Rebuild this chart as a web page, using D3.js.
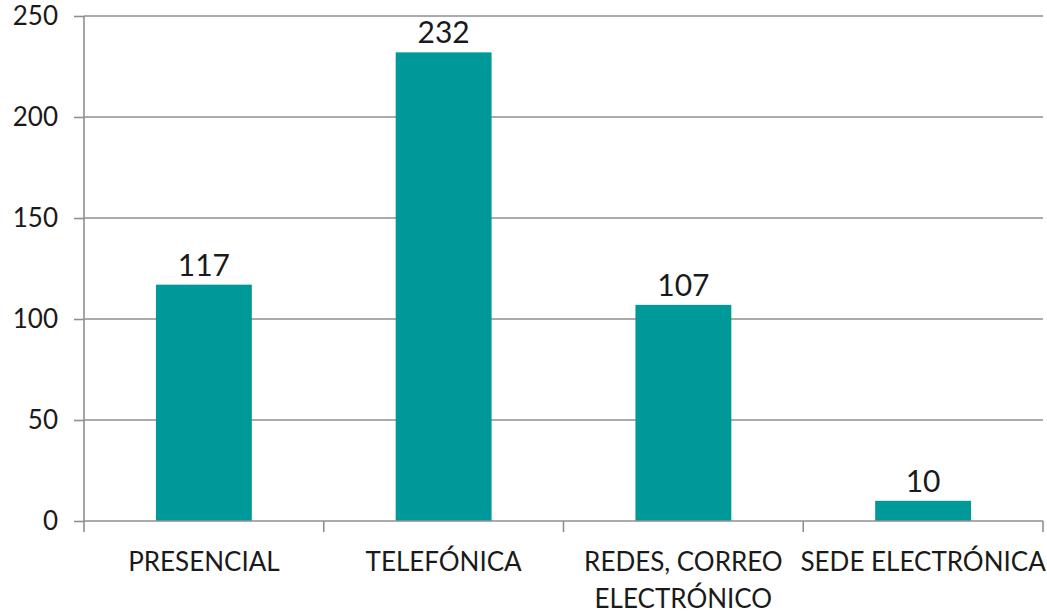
<!DOCTYPE html>
<html>
<head>
<meta charset="utf-8">
<script src="https://cdn.jsdelivr.net/npm/d3@7"></script>
<style>
  body { margin: 0; background: #fff; }
  text { font-family: Lato, sans-serif; }
</style>
</head>
<body>
<div id="wrapper"></div>
<script>
// data
const categories = ["PRESENCIAL", "TELEFÓNICA", "REDES, CORREO ELECTRÓNICO", "SEDE ELECTRÓNICA"]
const categoryLines = [["PRESENCIAL"], ["TELEFÓNICA"], ["REDES, CORREO", "ELECTRÓNICO"], ["SEDE ELECTRÓNICA"]]
const values = [117, 232, 107, 10]
const yTicks = [0, 50, 100, 150, 200, 250]

function drawChart() {
  const dimensions = {
    width: 1047,
    height: 615,
    margin: { top: 16, right: 4, bottom: 94, left: 84 },
  }
  dimensions.boundedWidth = dimensions.width - dimensions.margin.left - dimensions.margin.right
  dimensions.boundedHeight = dimensions.height - dimensions.margin.top - dimensions.margin.bottom

  const svg = d3.select("#wrapper").append("svg")
    .attr("width", dimensions.width)
    .attr("height", dimensions.height)

  const bounds = svg.append("g")
    .attr("transform", `translate(${dimensions.margin.left},${dimensions.margin.top})`)

  const xScale = d3.scaleBand()
    .domain(categories)
    .range([0, dimensions.boundedWidth])
    .paddingInner(0.6)
    .paddingOuter(0.3)

  const yScale = d3.scaleLinear()
    .domain([0, 250])
    .range([dimensions.boundedHeight, 0])

  // gridlines
  bounds.append("g")
    .selectAll("line")
    .data(yTicks.filter(d => d > 0))
    .join("line")
      .attr("x1", 0)
      .attr("x2", dimensions.boundedWidth)
      .attr("y1", d => yScale(d))
      .attr("y2", d => yScale(d))
      .attr("stroke", "#8f8f8f")
      .attr("stroke-width", 1.6)

  // bars
  bounds.append("g")
    .selectAll("rect")
    .data(values)
    .join("rect")
      .attr("x", (d, i) => xScale(categories[i]))
      .attr("y", d => yScale(d))
      .attr("width", xScale.bandwidth())
      .attr("height", d => dimensions.boundedHeight - yScale(d))
      .attr("fill", "#009999")

  // value labels
  bounds.append("g")
    .selectAll("text")
    .data(values)
    .join("text")
      .attr("x", (d, i) => xScale(categories[i]) + xScale.bandwidth() / 2)
      .attr("y", d => yScale(d) - 9)
      .attr("text-anchor", "middle")
      .attr("font-size", 30)
      .attr("fill", "#1a1a1a")
      .text(d => d)

  // y axis
  const yAxis = bounds.append("g")
    .call(d3.axisLeft(yScale).tickValues(yTicks).tickSize(10).tickPadding(16))
  yAxis.select(".domain").remove()
  yAxis.append("line")
    .attr("x1", 0).attr("x2", 0)
    .attr("y1", 0).attr("y2", dimensions.boundedHeight + 11)
    .attr("stroke", "#8f8f8f").attr("stroke-width", 1.6)
  yAxis.selectAll(".tick line").attr("stroke", "#8f8f8f").attr("stroke-width", 1.6)
  yAxis.selectAll(".tick text")
    .attr("font-family", "Lato, sans-serif")
    .attr("font-size", 26)
    .attr("fill", "#1a1a1a")

  // x axis
  const xAxis = bounds.append("g")
    .attr("transform", `translate(0,${dimensions.boundedHeight})`)
  xAxis.append("line")
    .attr("x1", 0).attr("x2", dimensions.boundedWidth)
    .attr("stroke", "#8f8f8f").attr("stroke-width", 1.6)
  const step = xScale.step()
  xAxis.selectAll(".sep")
    .data(d3.range(1, categories.length + 1))
    .join("line")
      .attr("class", "sep")
      .attr("x1", d => xScale(categories[d - 1]) + xScale.bandwidth() / 2 + step / 2)
      .attr("x2", d => xScale(categories[d - 1]) + xScale.bandwidth() / 2 + step / 2)
      .attr("y1", 0).attr("y2", 11)
      .attr("stroke", "#8f8f8f").attr("stroke-width", 1.6)

  const labels = xAxis.selectAll(".cat")
    .data(categories)
    .join("text")
      .attr("class", "cat")
      .attr("text-anchor", "middle")
      .attr("font-size", 26)
      .attr("fill", "#1a1a1a")
      .attr("transform", d => `translate(${xScale(d) + xScale.bandwidth() / 2},50)`)
  labels.selectAll("tspan")
    .data((d, i) => categoryLines[i])
    .join("tspan")
      .attr("x", 0)
      .attr("dy", (d, i) => i === 0 ? 0 : 37)
      .text(d => d)
}
drawChart()
</script>
</body>
</html>
